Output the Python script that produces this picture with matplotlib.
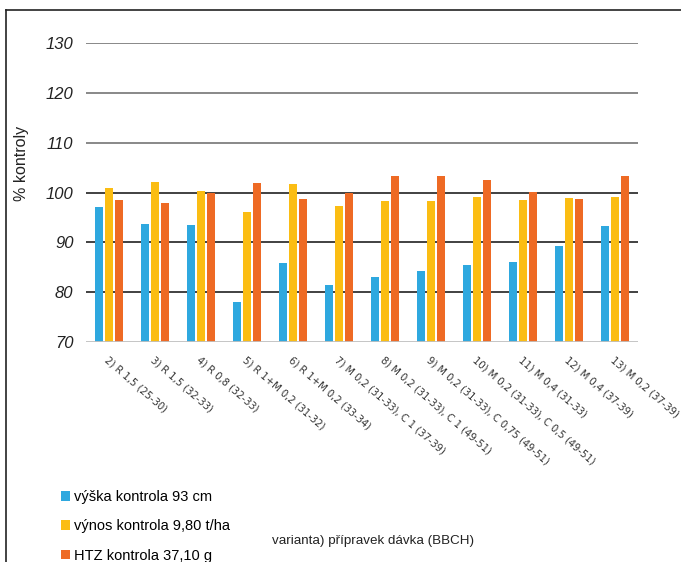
import numpy as np
import matplotlib.pyplot as plt
from matplotlib.lines import Line2D

# varianta) přípravek dávka (BBCH)
variants = ['2) R 1,5 (25-30)', '3) R 1,5 (32-33)', '4) R 0,8 (32-33)',
            '5) R 1+M 0,2 (31-32)', '6) R 1+M 0,2 (33-34)',
            '7) M 0,2 (31-33), C 1 (37-39)', '8) M 0,2 (31-33), C 1 (49-51)',
            '9) M 0,2 (31-33), C 0,75 (49-51)', '10) M 0,2 (31-33), C 0,5 (49-51)',
            '11) M 0,4 (31-33)', '12) M 0,4 (37-39)', '13) M 0,2 (37-39)']

vyska = [97.0, 93.6, 93.4, 78.0, 85.9, 81.4, 83.0, 84.3, 85.5, 86.1, 89.3, 93.3]
vynos = [100.9, 102.1, 100.3, 96.1, 101.8, 97.3, 98.3, 98.2, 99.0, 98.5, 98.9, 99.1]
htz = [98.5, 97.8, 100.0, 102.0, 98.6, 100.0, 103.4, 103.3, 102.5, 100.2, 98.7, 103.4]

series_labels = ['výška kontrola 93 cm', 'výnos kontrola 9,80 t/ha', 'HTZ kontrola 37,10 g']
colors = ['#2ea8df', '#fbbd13', '#ee6a24']
yticks = [70, 80, 90, 100, 110, 120, 130]

plt.rcParams['font.family'] = ['Liberation Sans', 'DejaVu Sans']

fig = plt.figure(figsize=(6.81, 5.62), dpi=100)
ax = fig.add_axes([86/681, 1 - 342/562, 552/681, 299/562])

x = np.arange(len(variants))
w = 0.174
step = 0.217
bars = []
for i, (vals, c, lab) in enumerate(zip([vyska, vynos, htz], colors, series_labels)):
    b = ax.bar(x + (i - 1) * step, np.array(vals) - 70, width=w, bottom=70,
               color=c, label=lab, zorder=3)
    bars.append(b)

ax.set_xlim(-0.5, len(variants) - 0.5)
ax.set_ylim(70, 130)

# horizontal grid lines: lower ones darker like the original
for v in yticks[1:]:
    col = '#333333' if v <= 100 else '#7f7f7f'
    ax.axhline(v, color=col, lw=1.3, zorder=1)
ax.axhline(70, color='#c0c0c0', lw=2, zorder=4)

for s in ax.spines.values():
    s.set_visible(False)

ax.set_yticks(yticks)
ax.set_yticklabels([str(v) for v in yticks], fontsize=12, style='italic', color='#222222')
ax.tick_params(axis='y', length=0, pad=9)

ax.set_xticks(x)
ax.set_xticklabels(variants, rotation=-41, ha='left', va='top', rotation_mode='anchor',
                   fontsize=7.2, color='#333333', family='DejaVu Sans')
ax.tick_params(axis='x', length=0, pad=9)

fig.text(22/681, 1 - 163/562, '% kontroly', rotation=90, ha='center', va='center',
         fontsize=11.5, color='#222222')
fig.text(272/681, 1 - 541/562, 'varianta) přípravek dávka (BBCH)', ha='left', va='center',
         fontsize=9.6, color='#222222')

fig.legend(handles=bars, loc='upper left', bbox_to_anchor=(61/681, 1 - 490/562),
           frameon=False, fontsize=10.5, handlelength=0.62, handleheight=0.62,
           handletextpad=0.25, labelspacing=1.05, borderaxespad=0, borderpad=0)

# frame lines of the original picture
fig.add_artist(Line2D([6/681, 6/681], [0, 1 - 10/562], color='#222222', lw=1.2,
                      transform=fig.transFigure))
fig.add_artist(Line2D([6/681, 1], [1 - 10/562, 1 - 10/562], color='#222222', lw=1.2,
                      transform=fig.transFigure))

fig.savefig('out.png', dpi=100)
